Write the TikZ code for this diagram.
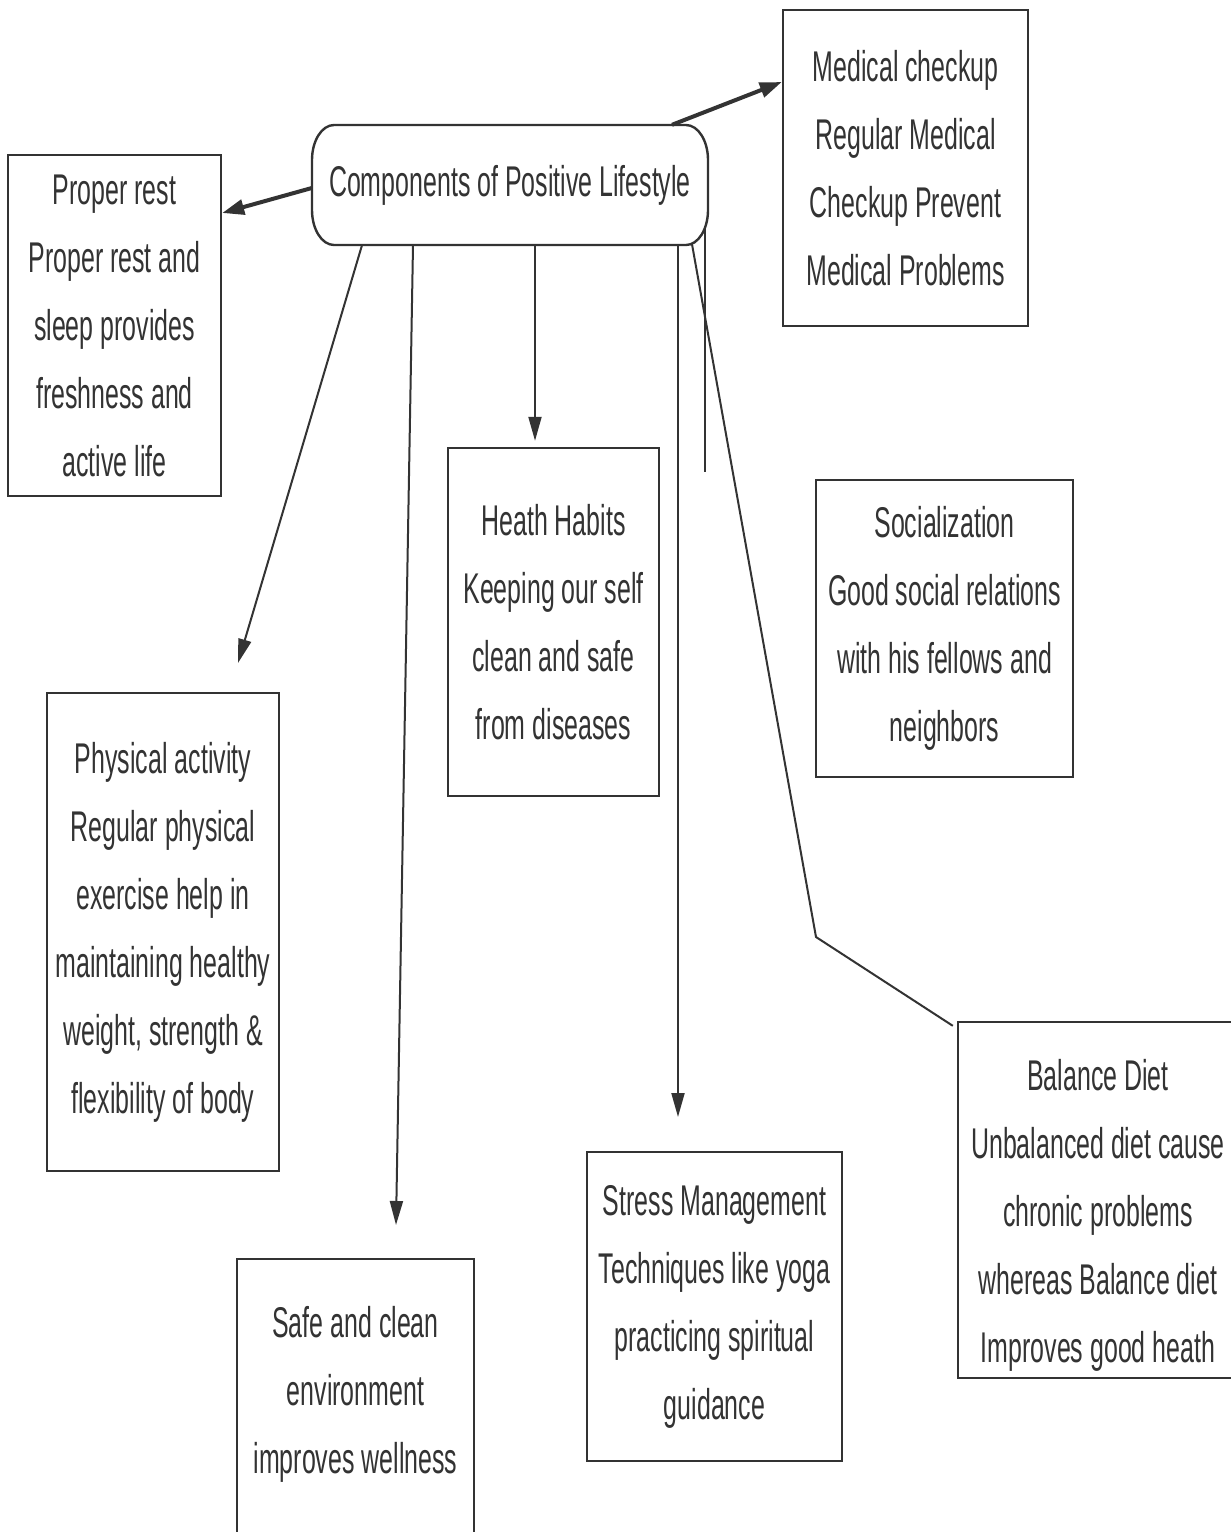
\documentclass[tikz,border=0pt]{standalone}
\usepackage{fontspec}
\setmainfont{Liberation Sans}[FakeStretch=0.58]
\usetikzlibrary{arrows.meta,calc}
\definecolor{lc}{HTML}{333333}
\definecolor{tc}{HTML}{333333}
\newcommand{\bodyfont}{\fontsize{43}{68}\selectfont}
\begin{document}
\begin{tikzpicture}[x=1pt,y=1pt,
  box/.style={draw=lc,line width=2.4pt,rectangle,inner sep=0pt,align=center,font=\bodyfont,text=tc},
  openbox/.style={rectangle,inner sep=0pt},
  boxline/.style={draw=lc,line width=2.4pt},
  txt/.style={inner sep=0pt,align=center,font=\bodyfont,text=tc},
  thinline/.style={draw=lc,line width=2pt},
  arr/.style={thinline,-{Triangle[length=24pt,width=13pt]}},
  thickarr/.style={draw=lc,line width=4pt,-{Triangle[length=22pt,width=15pt]}}]
\useasboundingbox[fill=white] (0,0) rectangle (1231,-1532);
\clip (0,0) rectangle (1231,-1532);

% hub
\node[txt,minimum width=396pt,minimum height=120pt] (hub) at (510,-185) {Components of Positive Lifestyle};
\draw[boxline] (334,-125) -- (686,-125)
  arc[start angle=90,end angle=0,x radius=22,y radius=35] -- (708,-210)
  arc[start angle=0,end angle=-90,x radius=22,y radius=35] -- (334,-245)
  arc[start angle=270,end angle=180,x radius=22,y radius=35] -- (312,-160)
  arc[start angle=180,end angle=90,x radius=22,y radius=35] -- cycle;

% boxes
\node[box,minimum width=213pt,minimum height=341pt] (rest) at (114.5,-325.5)
  {Proper rest\\Proper rest and\\sleep provides\\freshness and\\active life};
\node[box,minimum width=245pt,minimum height=316pt] (med) at (905.5,-168)
  {Medical checkup\\Regular Medical\\Checkup Prevent\\Medical Problems};
\node[box,minimum width=211pt,minimum height=348pt] (heath) at (553.5,-622)
  {Heath Habits\\Keeping our self\\clean and safe\\from diseases};
\node[box,minimum width=257pt,minimum height=297pt] (soc) at (944.5,-628.5)
  {Socialization\\Good social relations\\with his fellows and\\neighbors};
\node[box,minimum width=232pt,minimum height=478pt] (phys) at (163,-932)
  {Physical activity\\Regular physical\\exercise help in\\maintaining healthy\\weight, strength \&\\flexibility of body};
\node[box,minimum width=255pt,minimum height=309pt] (stress) at (714.5,-1306.5)
  {Stress Management\\Techniques like yoga\\practicing spiritual\\guidance};

% balance box: right side beyond the page edge
\node[openbox,minimum width=330pt,minimum height=356pt] (balbox) at (1123,-1200) {};
\draw[boxline,line cap=butt] (balbox.north east) -- (balbox.north west) -- (balbox.south west) -- (balbox.south east);
\node[txt] (baltxt) at (1098,-1215)
  {Balance Diet\\Unbalanced diet cause\\chronic problems\\whereas Balance diet\\Improves good heath};

% safe box: bottom beyond the page edge
\node[openbox,minimum width=237pt,minimum height=300pt] (safebox) at (355.5,-1409) {};
\draw[boxline] (safebox.south west) -- (safebox.north west) -- (safebox.north east) -- (safebox.south east);
\node[txt] (safetxt) at (355.5,-1394)
  {Safe and clean\\environment\\improves wellness};

% free ends
\coordinate (tipPA) at (238,-663);
\coordinate (tipSafe) at (396,-1225);
\coordinate (tipStress) at (678,-1117);
\coordinate (vend) at (705,-472);
\coordinate (bend) at (816,-937);

% connectors
\draw[thickarr] ([yshift=-3pt]hub.west) -- ([yshift=112.5pt]rest.east);
\draw[thickarr] ([xshift=162pt]hub.north) -- ([yshift=86pt]med.west);
\draw[arr] ([xshift=-148pt]hub.south) -- (tipPA);
\draw[arr] ([xshift=-97pt]hub.south) -- (tipSafe);
\draw[arr,shorten >=6pt] ([xshift=25pt]hub.south) -- ([xshift=-18.5pt]heath.north);
\draw[arr] ([xshift=168pt]hub.south) -- (tipStress);
\draw[thinline] ([shift={(195pt,-43pt)}]hub.center) -- (vend);
\draw[thinline] ([shift={(182pt,1pt)}]hub.south) -- (bend) -- ([shift={(-5pt,-4pt)}]balbox.north west);
\end{tikzpicture}
\end{document}
